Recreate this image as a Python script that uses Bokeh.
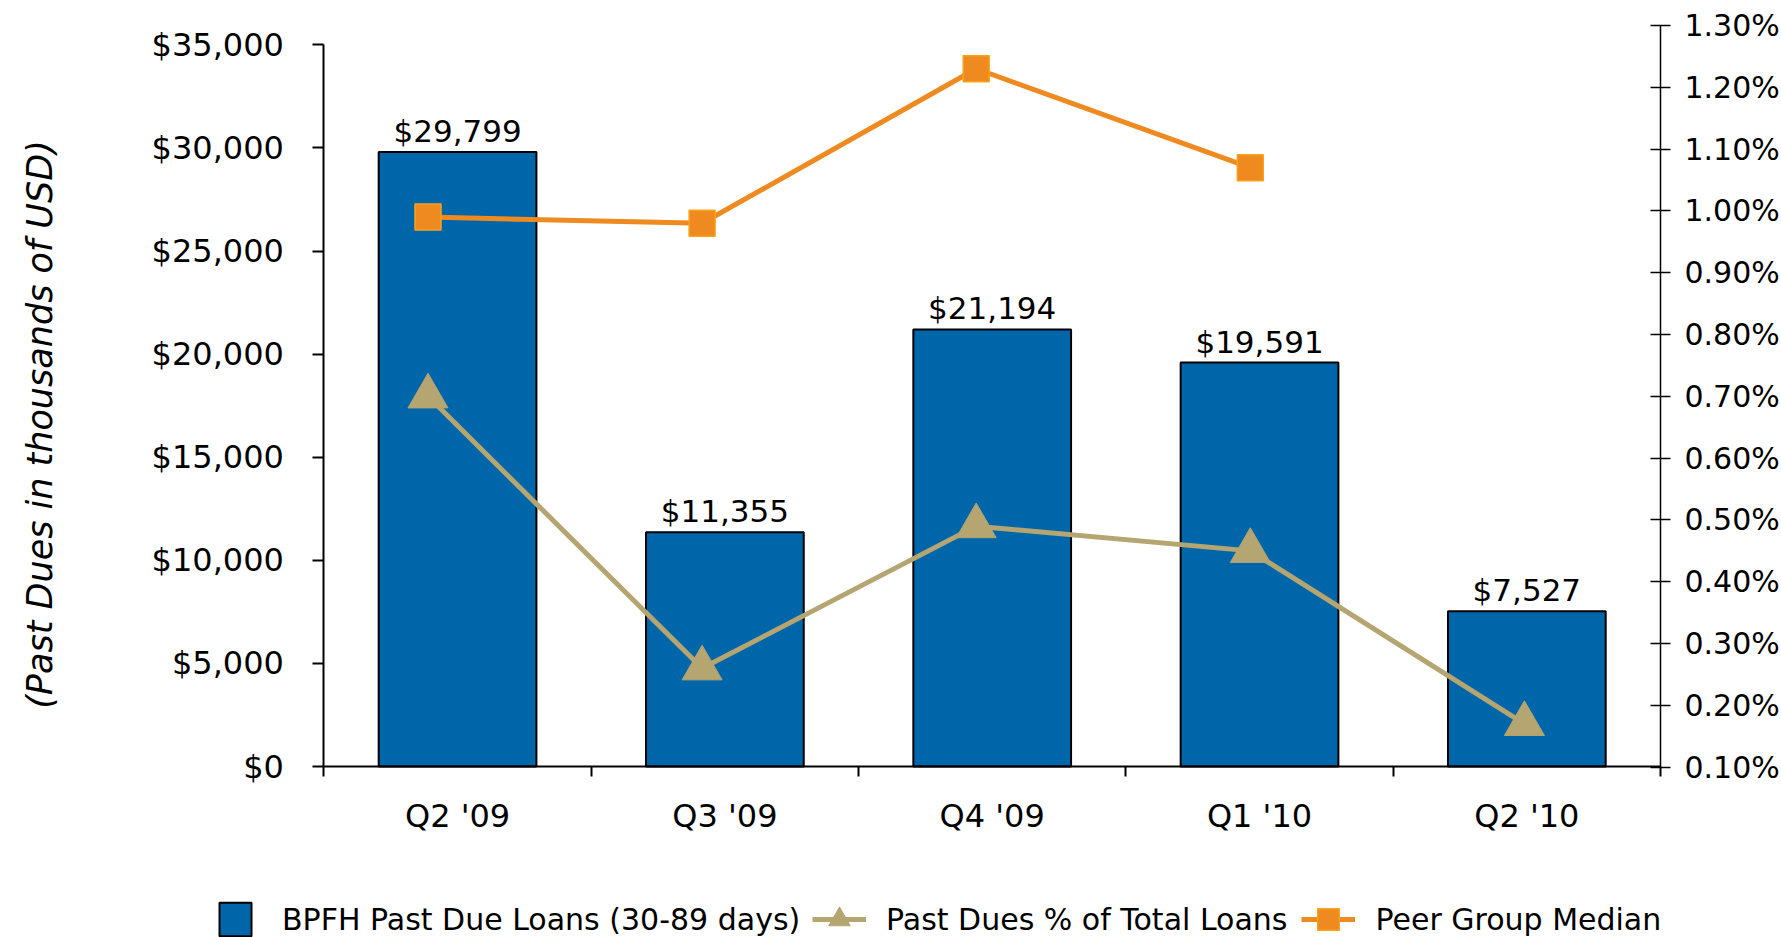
import numpy as np
from bokeh.plotting import figure
from bokeh.models import (Range1d, LinearAxis, FixedTicker, NumeralTickFormatter,
                          PrintfTickFormatter, Legend, LegendItem, Label)
from bokeh.core.properties import value
from bokeh.embed import file_html
from bokeh.resources import INLINE

# ---- data ----
categories = ["Q2 '09", "Q3 '09", "Q4 '09", "Q1 '10", "Q2 '10"]
past_due_loans = [29799, 11355, 21194, 19591, 7527]          # thousands of USD
past_due_pct = [0.70, 0.26, 0.49, 0.45, 0.17]                 # % of total loans
peer_median_pct = [0.99, 0.98, 1.23, 1.07, float("nan")]      # %
left_ticks = [0, 5000, 10000, 15000, 20000, 25000, 30000, 35000]
right_ticks = [0.10, 0.20, 0.30, 0.40, 0.50, 0.60, 0.70, 0.80, 0.90, 1.00, 1.10, 1.20, 1.30]

series_names = ["BPFH Past Due Loans (30-89 days)", "Past Dues % of Total Loans", "Peer Group Median"]
y_title = "(Past Dues in thousands of USD)"

# ---- styles / layout ----
FONT = "DejaVu Sans"
BLUE = "#0066AA"
TAN = "#B4A571"
ORANGE = "#EE8A1F"
ORANGE_EDGE = "#F9A31B"
W, H = 1781, 937

n = len(categories)
bar_x = np.arange(n) + 0.5
line_x = np.arange(n)

# pixel geometry of the plotting area inside the canvas
PX_LEFT, PX_RIGHT, PX_ZERO = 323.4, 1660.0, 766.0
cat_px = (PX_RIGHT - PX_LEFT) / n
usd_per_px = 35000 / (PX_ZERO - 44.3)
pct_per_px = 1.2 / (766.7 - 25.0)
line_px0, line_step = 427.5, 274.1

p = figure(width=W, height=H, output_backend="svg", toolbar_location=None,
           x_range=Range1d(-PX_LEFT / cat_px, (W - PX_LEFT) / cat_px),
           y_range=Range1d(-(H - PX_ZERO) * usd_per_px, PX_ZERO * usd_per_px),
           x_axis_type=None, y_axis_type=None,
           min_border_left=0, min_border_right=0, min_border_top=0, min_border_bottom=0)
p.outline_line_color = None
p.background_fill_color = "white"
p.border_fill_color = "white"
p.extra_y_ranges = {"pct": Range1d(0.10 - (H - 766.7) * pct_per_px, 1.30 + 25.0 * pct_per_px)}
p.extra_x_ranges = {"line": Range1d(-line_px0 / line_step, (W - line_px0) / line_step)}

# bars
bars = p.vbar(x=bar_x, top=past_due_loans, width=0.59, fill_color=BLUE,
              line_color="black", line_width=2)
p.text(x=bar_x, y=past_due_loans, text=[f"${v:,}" for v in past_due_loans],
       text_align="center", text_baseline="bottom", y_offset=-3,
       text_font=value(FONT), text_font_size="31px", text_color="black")

# past due % line
pct_line = p.line(x=line_x, y=past_due_pct, x_range_name="line", y_range_name="pct",
                  line_color=TAN, line_width=5)
pct_pts = p.scatter(x=line_x, y=past_due_pct, x_range_name="line", y_range_name="pct",
                    marker="triangle", size=40, fill_color=TAN, line_color=TAN)

# peer median line
peer_line = p.line(x=line_x, y=peer_median_pct, x_range_name="line", y_range_name="pct",
                   line_color=ORANGE, line_width=5)
peer_pts = p.scatter(x=line_x, y=peer_median_pct, x_range_name="line", y_range_name="pct",
                     marker="square", size=26, fill_color=ORANGE, line_color=ORANGE_EDGE,
                     line_width=1.5)

# axes (fixed inside the canvas)
left = LinearAxis(bounds=(0, 35000), fixed_location=0, ticker=FixedTicker(ticks=left_ticks),
                  formatter=NumeralTickFormatter(format="$0,0"))
left.axis_line_width = 2
left.major_tick_line_width = 2
left.major_tick_in = 0
left.major_tick_out = 11
left.minor_tick_line_color = None
left.major_label_standoff = 29
left.major_label_text_font = FONT
left.major_label_text_font_size = "32px"
left.major_label_text_color = "black"
p.add_layout(left, "left")

right = LinearAxis(y_range_name="pct", bounds=(0.10, 1.30), fixed_location=n,
                   ticker=FixedTicker(ticks=right_ticks),
                   formatter=PrintfTickFormatter(format="%.2f%%"))
right.axis_line_width = 1.5
right.major_tick_line_width = 1.5
right.major_tick_in = 10
right.major_tick_out = 10
right.minor_tick_line_color = None
right.major_label_standoff = 14
right.major_label_text_font = FONT
right.major_label_text_font_size = "30px"
right.major_label_text_color = "black"
p.add_layout(right, "right")

bottom = LinearAxis(bounds=(0, n), fixed_location=0,
                    ticker=FixedTicker(ticks=list(bar_x), minor_ticks=list(range(n + 1))),
                    major_label_overrides={float(x): c for x, c in zip(bar_x, categories)})
bottom.axis_line_width = 2
bottom.major_tick_in = 0
bottom.major_tick_out = 0
bottom.major_tick_line_color = None
bottom.minor_tick_in = 0
bottom.minor_tick_out = 10
bottom.minor_tick_line_width = 2
bottom.minor_tick_line_color = "black"
bottom.major_label_standoff = 20
bottom.major_label_text_font = FONT
bottom.major_label_text_font_size = "32px"
bottom.major_label_text_color = "black"
p.add_layout(bottom, "below")

# y title
p.add_layout(Label(x=39, y=H - 424, x_units="screen", y_units="screen", text=y_title,
                   angle=np.pi / 2, text_align="center", text_baseline="middle",
                   text_font=FONT, text_font_style="italic", text_font_size="35px",
                   text_color="black"))

# legends
common = dict(orientation="horizontal", padding=0, margin=0, border_line_color=None,
              background_fill_alpha=0, label_text_font=FONT, label_text_font_size="30px",
              label_text_color="black")
legA = Legend(items=[LegendItem(label=series_names[0], renderers=[bars])],
              location=(215, -3), glyph_width=40, glyph_height=42, label_standoff=27, **common)
legB = Legend(items=[LegendItem(label=series_names[1], renderers=[pct_line, pct_pts]),
                     LegendItem(label=series_names[2], renderers=[peer_line, peer_pts])],
              location=(812, -15), spacing=14, glyph_width=54, glyph_height=66,
              label_standoff=20, **common)
p.add_layout(legA, "center")
p.add_layout(legB, "center")

open("out.html", "w").write(file_html(p, INLINE))
